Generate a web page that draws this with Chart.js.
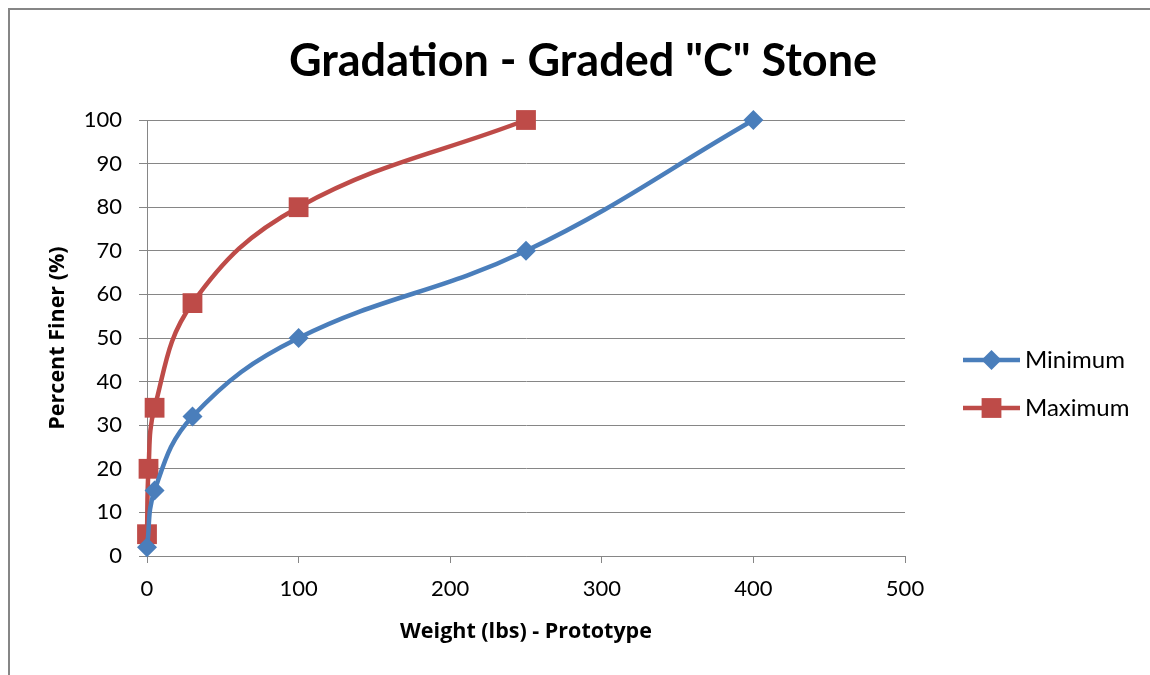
<!DOCTYPE html>
<html>
<head>
<meta charset="utf-8">
<script src="https://cdn.jsdelivr.net/npm/chart.js@4/dist/chart.umd.min.js"></script>
<style>
  html, body { margin: 0; padding: 0; background: #fff; overflow: hidden; }
  #wrap { position: relative; width: 1150px; height: 675px; }
  #frame { position: absolute; left: 8px; top: 8px; width: 1200px; height: 720px;
           border-left: 2px solid #868686; border-top: 2px solid #868686; }
  canvas { position: absolute; left: 0; top: 0; }
</style>
</head>
<body>
<div id="wrap">
  <div id="frame"></div>
  <canvas id="chart" width="1150" height="675"></canvas>
</div>
<script>
// Gradation data (weight in lbs vs percent finer)
const chartTitle = 'Gradation - Graded "C" Stone';
const seriesNames = ["Minimum", "Maximum"];
const minWeight = [0, 5, 30, 100, 250, 400];
const minFiner = [2, 15, 32, 50, 70, 100];
const maxWeight = [0, 1, 5, 30, 100, 250];
const maxFiner = [5, 20, 34, 58, 80, 100];
const xTicks = [0, 100, 200, 300, 400, 500];
const yTicks = [0, 10, 20, 30, 40, 50, 60, 70, 80, 90, 100];

const FONT = "Lato, 'Open Sans', sans-serif";
const BOLD_FONT = "'Open Sans', Lato, sans-serif";
const GRID = "#868686";
const BLUE = "#4A7EBB";
const RED = "#BE4B48";

function toPoints(xs, ys) {
  return xs.map((x, i) => ({ x: x, y: ys[i] }));
}

// Draws the title and the right-hand legend outside the plot area
const decorPlugin = {
  id: "decor",
  afterDraw(chart, args, opts) {
    const ctx = chart.ctx;
    ctx.save();
    ctx.fillStyle = "#000";
    ctx.textAlign = "center";
    ctx.textBaseline = "middle";
    ctx.font = "bold 45px " + FONT;
    ctx.fillText(chartTitle, opts.titleX, opts.titleY);

    chart.data.datasets.forEach((ds, i) => {
      const y = opts.legendY[i];
      ctx.strokeStyle = ds.borderColor;
      ctx.lineWidth = ds.borderWidth;
      ctx.beginPath();
      ctx.moveTo(opts.legendX0, y);
      ctx.lineTo(opts.legendX1, y);
      ctx.stroke();
      ctx.fillStyle = ds.pointBackgroundColor;
      ctx.strokeStyle = ds.pointBorderColor;
      Chart.helpers.drawPoint(ctx, {
        pointStyle: ds.pointStyle,
        radius: ds.pointRadius,
        borderWidth: 0,
        rotation: 0,
      }, (opts.legendX0 + opts.legendX1) / 2, y);
      ctx.fillStyle = "#000";
      ctx.textAlign = "left";
      ctx.font = "24px " + FONT;
      ctx.fillText(ds.label, opts.legendTextX, y);
    });
    ctx.restore();
  },
};

new Chart(document.getElementById("chart"), {
  type: "scatter",
  data: {
    datasets: [
      {
        label: seriesNames[0],
        data: toPoints(minWeight, minFiner),
        showLine: true,
        borderColor: BLUE,
        borderWidth: 4.5,
        tension: 0.4,
        pointStyle: "rectRot",
        pointRadius: 10,
        pointBackgroundColor: BLUE,
        pointBorderColor: BLUE,
        pointBorderWidth: 0,
        clip: false,
      },
      {
        label: seriesNames[1],
        data: toPoints(maxWeight, maxFiner),
        showLine: true,
        borderColor: RED,
        borderWidth: 4.5,
        tension: 0.4,
        pointStyle: "rect",
        pointRadius: 14,
        pointBackgroundColor: RED,
        pointBorderColor: RED,
        pointBorderWidth: 0,
        clip: false,
      },
    ],
  },
  options: {
    responsive: false,
    animation: false,
    layout: { padding: { top: 120, right: 245, left: 0, bottom: 0 } },
    scales: {
      x: {
        type: "linear",
        min: 0,
        max: 500,
        afterFit: (scale) => { scale.height = 119; },
        afterBuildTicks: (scale) => { scale.ticks = xTicks.map((v) => ({ value: v })); },
        grid: { drawOnChartArea: false, drawTicks: true, tickLength: 7, color: GRID, lineWidth: 1 },
        border: { color: GRID, width: 1 },
        ticks: { color: "#000", font: { family: FONT, size: 22 }, padding: 13, maxRotation: 0 },
        title: {
          display: true,
          text: "Weight (lbs) - Prototype",
          color: "#000",
          font: { family: BOLD_FONT, size: 21.5, weight: "bold" },
          padding: { top: 0, bottom: 30 },
        },
      },
      y: {
        type: "linear",
        min: 0,
        max: 100,
        afterFit: (scale) => { scale.width = 147; },
        afterBuildTicks: (scale) => { scale.ticks = yTicks.map((v) => ({ value: v })); },
        grid: { drawTicks: true, tickLength: 8, color: GRID, lineWidth: 1 },
        border: { color: GRID, width: 1 },
        ticks: { color: "#000", font: { family: FONT, size: 22 }, padding: 17 },
        title: {
          display: true,
          text: "Percent Finer (%)",
          color: "#000",
          font: { family: BOLD_FONT, size: 21.5, weight: "bold" },
          padding: { top: 45, bottom: 0 },
        },
      },
    },
    plugins: {
      legend: { display: false },
      title: { display: false },
      tooltip: { enabled: false },
      decor: {
        titleX: 583,
        titleY: 61,
        legendY: [360, 408],
        legendX0: 963,
        legendX1: 1020,
        legendTextX: 1025,
      },
    },
  },
  plugins: [decorPlugin],
});
</script>
</body>
</html>
